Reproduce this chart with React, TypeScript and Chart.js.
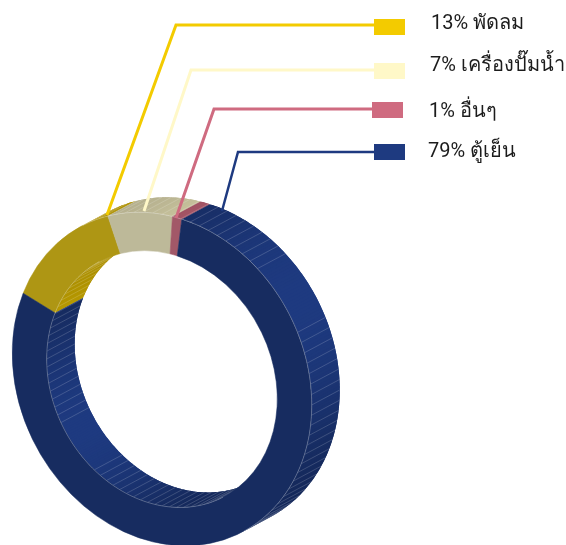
import React, { useEffect, useRef } from "react";
import { Chart, registerables } from "chart.js";

Chart.register(...registerables);

const categories = ["พัดลม", "เครื่องปั๊มน้ำ", "อื่นๆ", "ตู้เย็น"];
const shares = [13, 7, 1, 79];
const legendColors = ["#f3cb00", "#fff8c8", "#cf6b80", "#1e3a80"];
const frontColors = ["#ae9614", "#bdb999", "#a25868", "#172c60"];

const SHIFT = { x: 28, y: -15 };
const SHEAR_Y = 26 / 150;
const SCALE_Y = 165 / 150;
const CUT = 0.77;
const FACET = 3.6;
const GAPS_OUTER = [[40, 62]];
const GAPS_INNER = [[219, 241]];

const leaderAnchors: number[][] = [[107, 215], [144, 211], [176, 218], [222, 211]];
const leaderElbows: number[][] = [[176, 25], [191, 70], [214, 109], [238, 152]];
const leaderWidths = [3, 3, 3, 2.5];
const swatches: number[][] = [[374, 19], [374, 63], [372, 102], [374, 144]];
const textPos: number[][] = [[431, 29], [430, 71], [429, 117], [428, 157]];

function hexRgb(h: string) {
  return [1, 3, 5].map((i) => parseInt(h.slice(i, i + 2), 16));
}

const ringPlugin = {
  id: "ring3d",
  beforeDatasetsDraw(chart: any) {
    const ctx = chart.ctx as CanvasRenderingContext2D;
    const arcs = chart.getDatasetMeta(0).data;
    const a0 = arcs[0];
    const cx = a0.x, cy = a0.y, R = a0.outerRadius;
    const P = (ang: number, r: number, d: number) => {
      const u = r * Math.cos(ang), v = r * Math.sin(ang);
      return { x: cx + u + SHIFT.x * d, y: cy + SHEAR_Y * u + SCALE_Y * v + SHIFT.y * d };
    };
    const shadeAt = (ang: number, inner: boolean) => {
      const e = 0.01;
      const p = P(ang - e, R, 0), q = P(ang + e, R, 0);
      let nx = q.y - p.y, ny = -(q.x - p.x);
      const l = Math.hypot(nx, ny);
      nx /= l; ny /= l;
      if (inner) { nx = -nx; ny = -ny; }
      const vis = nx * SHIFT.x + ny * SHIFT.y > 0;
      const lx = Math.cos(-30 * Math.PI / 180), ly = Math.sin(-30 * Math.PI / 180);
      const c = Math.max(0, nx * lx + ny * ly);
      return { vis, f: 0.71 + 0.29 * c * c * c * c };
    };
    const deg = Math.PI / 180;
    const drawWall = (r: number, inner: boolean) => {
      arcs.forEach((arc: any, i: number) => {
        const rgb = hexRgb(legendColors[i]);
        const n = Math.max(1, Math.ceil((arc.endAngle - arc.startAngle) / deg));
        const st = (arc.endAngle - arc.startAngle) / n;
        for (let k = 0; k < n; k++) {
          const s = arc.startAngle + k * st, t = s + st;
          const m = shadeAt((s + t) / 2, inner);
          if (!m.vis) continue;
          const c = `rgb(${rgb.map((x) => Math.round(x * m.f)).join(",")})`;
          const end = k < n - 1 ? t + st : t;
          const A = P(s, r, 0), B = P((s + end) / 2, r, 0), E = P(end, r, 0);
          const C = P(end, r, 1), F = P((s + end) / 2, r, 1), D = P(s, r, 1);
          ctx.beginPath();
          ctx.moveTo(A.x, A.y); ctx.lineTo(B.x, B.y); ctx.lineTo(E.x, E.y);
          ctx.lineTo(C.x, C.y); ctx.lineTo(F.x, F.y); ctx.lineTo(D.x, D.y);
          ctx.closePath();
          ctx.fillStyle = c;
          ctx.fill();
        }
      });
      // facet lines
      const gaps = inner ? GAPS_INNER : GAPS_OUTER;
      ctx.strokeStyle = "rgba(255,255,255,0.28)";
      ctx.lineWidth = 0.6;
      for (let g = 0; g < 360; g += FACET) {
        if (gaps.some((w) => g > w[0] && g < w[1])) continue;
        const ang = (g - 90) * deg;
        if (!shadeAt(ang, inner).vis) continue;
        const A = P(ang, r, 0), D = P(ang, r, 1);
        ctx.beginPath(); ctx.moveTo(A.x, A.y); ctx.lineTo(D.x, D.y); ctx.stroke();
      }
    };
    ctx.save();
    drawWall(R * CUT, true);
    drawWall(R, false);
    ctx.restore();
    ctx.save();
    ctx.translate(cx, cy);
    ctx.transform(1, SHEAR_Y, 0, SCALE_Y, 0, 0);
    ctx.translate(-cx, -cy);
  },
  afterDatasetsDraw(chart: any) {
    const ctx = chart.ctx as CanvasRenderingContext2D;
    ctx.restore();
    const arcs = chart.getDatasetMeta(0).data;
    const { x: cx, y: cy, outerRadius: R } = arcs[0];
    const P = (ang: number, r: number) => {
      const u = r * Math.cos(ang), v = r * Math.sin(ang);
      return { x: cx + u, y: cy + SHEAR_Y * u + SCALE_Y * v };
    };
    const edge = (r: number, inner: boolean) => {
      ctx.save();
      ctx.strokeStyle = "rgba(255,255,255,0.38)";
      ctx.lineWidth = 0.7;
      ctx.beginPath();
      let pen = false;
      for (let d = 0; d <= 360; d++) {
        const ang = d * Math.PI / 180;
        const p = P(ang - 0.01, R), q = P(ang + 0.01, R);
        let nx = q.y - p.y, ny = -(q.x - p.x);
        if (inner) { nx = -nx; ny = -ny; }
        const vis = nx * SHIFT.x + ny * SHIFT.y > 0;
        const pt = P(ang, r);
        if (vis) { pen ? ctx.lineTo(pt.x, pt.y) : ctx.moveTo(pt.x, pt.y); pen = true; } else pen = false;
      }
      ctx.stroke();
      ctx.restore();
    };
    edge(R * CUT, true);
    edge(R, false);

    // leaders and legend
    const total = shares.reduce((a, b) => a + b, 0);
    categories.forEach((name, i) => {
      ctx.save();
      ctx.strokeStyle = legendColors[i];
      ctx.lineWidth = leaderWidths[i];
      ctx.lineJoin = "miter";
      ctx.beginPath();
      ctx.moveTo(leaderAnchors[i][0], leaderAnchors[i][1]);
      ctx.lineTo(leaderElbows[i][0], leaderElbows[i][1]);
      ctx.lineTo(swatches[i][0], leaderElbows[i][1]);
      ctx.stroke();
      ctx.fillStyle = legendColors[i];
      ctx.fillRect(swatches[i][0], swatches[i][1], 31, 16);
      ctx.fillStyle = "#1c1c1c";
      ctx.font = '20px Roboto, "Noto Sans", sans-serif';
      ctx.textBaseline = "alphabetic";
      ctx.fillText(`${Math.round((shares[i] / total) * 100)}% ${name}`, textPos[i][0], textPos[i][1]);
      ctx.restore();
    });
  },
};

export default function App() {
  const ref = useRef<HTMLCanvasElement>(null);
  useEffect(() => {
    const chart = new Chart(ref.current!, {
      type: "doughnut",
      data: {
        labels: categories,
        datasets: [{
          data: shares,
          backgroundColor: frontColors,
          borderColor: frontColors,
          borderWidth: 0.5,
        }],
      },
      options: {
        responsive: false,
        animation: false,
        rotation: -68,
        cutout: "77%",
        layout: { padding: { left: 12, right: 254, top: 229, bottom: 16 } },
        plugins: { legend: { display: false }, tooltip: { enabled: false } },
      },
      plugins: [ringPlugin],
    } as any);
    return () => chart.destroy();
  }, []);
  return (
    <canvas
      ref={ref}
      width={566}
      height={545}
      style={{ position: "absolute", left: 0, top: 0, width: 566, height: 545 }}
    />
  );
}
